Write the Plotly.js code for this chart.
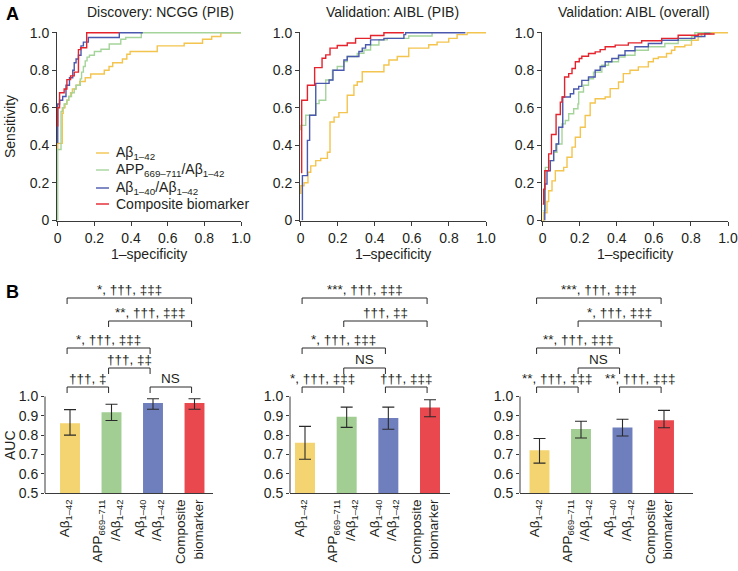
<!DOCTYPE html>
<html><head><meta charset="utf-8">
<script src="https://cdn.plot.ly/plotly-3.0.1.min.js"></script>
<style>body{margin:0;background:#fff}#chart{width:738px;height:571px}</style>
</head><body><div id="chart"></div>
<script>
// ---------------- DATA ----------------
const seriesNames = ['Aβ<sub>1–42</sub>', 'APP<sub>669–711</sub>/Aβ<sub>1–42</sub>', 'Aβ<sub>1–40</sub>/Aβ<sub>1–42</sub>', 'Composite biomarker'];
const panelTitles = ['Discovery: NCGG (PIB)', 'Validation: AIBL (PIB)', 'Validation: AIBL (overall)'];
const barTickLabels = ['Aβ<sub>1–42</sub>', 'APP<sub>669–711</sub><br>/Aβ<sub>1–42</sub>', 'Aβ<sub>1–40</sub><br>/Aβ<sub>1–42</sub>', 'Composite<br>biomarker'];
const rocTickVals = [0, 0.2, 0.4, 0.6, 0.8, 1.0];
const rocTickText = ['0', '0.2', '0.4', '0.6', '0.8', '1.0'];
const aucTickVals = [0.5, 0.6, 0.7, 0.8, 0.9, 1.0];
const aucTickText = ['0.5', '0.6', '0.7', '0.8', '0.9', '1.0'];

// Discovery NCGG (PIB) ROC curves
const ncggAb42Fpr = [0, 0, 0.025, 0.03, 0.04, 0.05, 0.06, 0.07, 0.08, 0.10, 0.12, 0.15, 0.18, 0.254, 0.28, 0.30, 0.353, 0.377, 0.395, 0.543, 0.69, 0.79, 0.84, 0.89, 1.0];
const ncggAb42Tpr = [0.38, 0.41, 0.57, 0.60, 0.62, 0.64, 0.66, 0.68, 0.70, 0.72, 0.74, 0.76, 0.78, 0.80, 0.82, 0.84, 0.86, 0.885, 0.90, 0.93, 0.944, 0.965, 0.98, 1.0, 1.0];
const ncggAppFpr = [0, 0, 0.018, 0.025, 0.035, 0.05, 0.06, 0.075, 0.09, 0.10, 0.123, 0.13, 0.14, 0.15, 0.16, 0.173, 0.20, 0.236, 0.281, 0.344, 0.371, 0.456, 1.0];
const ncggAppTpr = [0, 0.377, 0.58, 0.60, 0.62, 0.64, 0.66, 0.68, 0.70, 0.72, 0.754, 0.79, 0.82, 0.85, 0.87, 0.88, 0.90, 0.912, 0.94, 0.965, 0.975, 1.0, 1.0];
const ncggAb40Fpr = [0, 0, 0.01, 0.027, 0.045, 0.064, 0.082, 0.09, 0.10, 0.113, 0.127, 0.14, 0.167, 0.336, 0.464];
const ncggAb40Tpr = [0.41, 0.62, 0.64, 0.66, 0.72, 0.76, 0.80, 0.84, 0.86, 0.88, 0.93, 0.95, 0.975, 1.0, 1.0];
const ncggCompFpr = [0, 0, 0.01, 0.035, 0.05, 0.07, 0.09, 0.113, 0.125, 0.158, 0.335];
const ncggCompTpr = [0.5, 0.60, 0.68, 0.70, 0.75, 0.77, 0.79, 0.91, 0.92, 1.0, 1.0];

// Validation AIBL (PIB) ROC curves
const pibAb42Fpr = [0, 0, 0.018, 0.039, 0.054, 0.081, 0.108, 0.144, 0.158, 0.18, 0.206, 0.251, 0.287, 0.305, 0.332, 0.449, 0.476, 0.521, 0.583, 0.691, 0.736, 0.799, 0.844, 0.898, 1.0];
const pibAb42Tpr = [0.14, 0.184, 0.2, 0.256, 0.29, 0.318, 0.33, 0.363, 0.524, 0.55, 0.574, 0.667, 0.72, 0.739, 0.792, 0.828, 0.855, 0.873, 0.918, 0.936, 0.95, 0.97, 0.99, 1.0, 1.0];
const pibAppFpr = [0, 0, 0.027, 0.081, 0.099, 0.135, 0.171, 0.197, 0.233, 0.251, 0.305, 0.341, 0.377, 0.422, 0.467, 0.583, 0.709];
const pibAppTpr = [0.48, 0.506, 0.56, 0.622, 0.64, 0.748, 0.80, 0.82, 0.846, 0.873, 0.89, 0.908, 0.935, 0.962, 0.97, 0.983, 1.0];
const pibAb40Fpr = [0.009, 0.009, 0.036, 0.048, 0.081, 0.153, 0.174, 0.233, 0.251, 0.314, 0.332, 0.35, 0.377, 0.449, 0.557, 0.566, 0.889];
const pibAb40Tpr = [0, 0.238, 0.426, 0.56, 0.73, 0.748, 0.80, 0.855, 0.873, 0.90, 0.918, 0.936, 0.962, 0.97, 0.99, 1.0, 1.0];
const pibCompFpr = [0.005, 0.005, 0.036, 0.075, 0.115, 0.135, 0.158, 0.197, 0.251, 0.296, 0.377, 0.449, 0.557];
const pibCompTpr = [0.25, 0.64, 0.72, 0.814, 0.864, 0.882, 0.918, 0.932, 0.945, 0.97, 0.985, 1.0, 1.0];

// Validation AIBL (overall) ROC curves
const allAb42Fpr = [0, 0.005, 0.023, 0.032, 0.05, 0.068, 0.113, 0.131, 0.158, 0.176, 0.203, 0.229, 0.256, 0.283, 0.337, 0.364, 0.409, 0.435, 0.471, 0.516, 0.57, 0.597, 0.624, 0.668, 0.695, 0.713, 0.767, 0.803, 0.839, 0.857, 0.91, 1.0];
const allAb42Tpr = [0, 0.04, 0.1, 0.157, 0.21, 0.264, 0.282, 0.336, 0.39, 0.443, 0.496, 0.559, 0.625, 0.648, 0.657, 0.702, 0.737, 0.782, 0.80, 0.818, 0.845, 0.863, 0.871, 0.889, 0.907, 0.925, 0.934, 0.96, 0.98, 0.996, 1.0, 1.0];
const allAppFpr = [0, 0.014, 0.032, 0.059, 0.077, 0.104, 0.122, 0.14, 0.167, 0.19, 0.194, 0.22, 0.247, 0.274, 0.319, 0.355, 0.409, 0.444, 0.498, 0.57, 0.659, 0.731, 0.803, 0.821, 0.91];
const allAppTpr = [0.05, 0.282, 0.318, 0.363, 0.407, 0.514, 0.532, 0.568, 0.595, 0.62, 0.684, 0.72, 0.755, 0.79, 0.827, 0.845, 0.871, 0.88, 0.907, 0.925, 0.943, 0.96, 0.98, 1.0, 1.0];
const allAb40Fpr = [0.011, 0.011, 0.023, 0.041, 0.059, 0.072, 0.086, 0.108, 0.149, 0.167, 0.194, 0.211, 0.247, 0.283, 0.31, 0.337, 0.373, 0.409, 0.444, 0.498, 0.57, 0.642, 0.731, 0.821, 0.875, 0.901];
const allAb40Tpr = [0, 0.193, 0.264, 0.318, 0.371, 0.407, 0.496, 0.657, 0.675, 0.70, 0.714, 0.746, 0.764, 0.80, 0.82, 0.845, 0.863, 0.88, 0.904, 0.925, 0.943, 0.96, 0.97, 0.98, 0.996, 1.0];
const allCompFpr = [0, 0.005, 0.011, 0.032, 0.047, 0.072, 0.095, 0.104, 0.118, 0.14, 0.158, 0.176, 0.197, 0.211, 0.247, 0.283, 0.31, 0.337, 0.391, 0.462, 0.534, 0.642, 0.731, 0.839, 0.928];
const allCompTpr = [0.086, 0.166, 0.264, 0.354, 0.457, 0.564, 0.63, 0.657, 0.764, 0.782, 0.809, 0.845, 0.863, 0.875, 0.889, 0.898, 0.91, 0.925, 0.934, 0.946, 0.957, 0.97, 0.987, 0.993, 0.993];

// AUC with 95% CI
const ncggAuc = [0.862, 0.918, 0.966, 0.966];
const ncggAucLo = [0.80, 0.876, 0.934, 0.934];
const ncggAucHi = [0.932, 0.96, 0.988, 0.988];
const pibAuc = [0.76, 0.895, 0.888, 0.943];
const pibAucLo = [0.675, 0.84, 0.83, 0.895];
const pibAucHi = [0.845, 0.945, 0.945, 0.983];
const allAuc = [0.722, 0.832, 0.84, 0.877];
const allAucLo = [0.655, 0.785, 0.795, 0.838];
const allAucHi = [0.782, 0.872, 0.882, 0.928];

// Pairwise comparison brackets [from, to, label]
const ncggBrackets = [[0, 1, '†††, ‡'], [2, 3, 'NS'], [1, 2, '†††, ‡‡'], [0, 2, '*, †††, ‡‡‡'], [1, 3, '**, †††, ‡‡‡'], [0, 3, '*, †††, ‡‡‡']];
const pibBrackets = [[0, 1, '*, †††, ‡‡‡'], [2, 3, '†††, ‡‡‡'], [1, 2, 'NS'], [0, 2, '*, †††, ‡‡‡'], [1, 3, '†††, ‡‡'], [0, 3, '***, †††, ‡‡‡']];
const allBrackets = [[0, 1, '**, †††, ‡‡‡'], [2, 3, '**, †††, ‡‡‡'], [1, 2, 'NS'], [0, 2, '**, †††, ‡‡‡'], [1, 3, '*, †††, ‡‡‡'], [0, 3, '***, †††, ‡‡‡']];

// ---------------- STYLE / LAYOUT ----------------
const FONT = 'Liberation Sans, Arial, Helvetica, sans-serif';
const TXT = '#231f20';
const AX = '#3a3a3a';
const FS = 14;
const lineColors = ['#f3c44e', '#a5d49b', '#4a59ad', '#e4232d'];
const barColors = ['#f3d470', '#a2cd93', '#6f7ebd', '#e9484f'];
const W = 738, H = 571;
const px = v => v / W, py = v => 1 - v / H;
const rocX = [[57, 241], [300, 486], [542, 728]];
const rocY = [32, 221];
const titleCx = [160, 392, 634];
const barAxisX = [[45, 213], [290, 450], [520, 693]];
const barFirstLast = [[70, 194.5], [305, 430], [539.5, 664]];
const barY0px = 493, barY1px = 396.5, barTopPx = 280;
const bracketLevelsPx = [387, 387, 368, 348, 321, 298];
const bracketLegPx = 6;
const bracketXShift = -0.07;
const tickShift = -0.12;

const rocSets = [
  [[ncggAb42Fpr, ncggAb42Tpr], [ncggAppFpr, ncggAppTpr], [ncggAb40Fpr, ncggAb40Tpr], [ncggCompFpr, ncggCompTpr]],
  [[pibAb42Fpr, pibAb42Tpr], [pibAppFpr, pibAppTpr], [pibAb40Fpr, pibAb40Tpr], [pibCompFpr, pibCompTpr]],
  [[allAb42Fpr, allAb42Tpr], [allAppFpr, allAppTpr], [allAb40Fpr, allAb40Tpr], [allCompFpr, allCompTpr]]
];
const aucSets = [[ncggAuc, ncggAucLo, ncggAucHi], [pibAuc, pibAucLo, pibAucHi], [allAuc, allAucLo, allAucHi]];
const bracketSets = [ncggBrackets, pibBrackets, allBrackets];

const traces = [];
const annotations = [];
const shapes = [];
const layout = {
  width: W, height: H, margin: {l: 0, r: 0, t: 0, b: 0},
  paper_bgcolor: '#fff', plot_bgcolor: 'rgba(0,0,0,0)',
  showlegend: false, font: {family: FONT, size: FS, color: TXT}
};

const barYTop = 0.5 + (barY0px - barTopPx) / (barY0px - barY1px) * 0.5;
const pxToAuc = p => 0.5 + (barY0px - p) / (barY0px - barY1px) * 0.5;

for (let p = 0; p < 3; p++) {
  const xa = 'x' + (p === 0 ? '' : p + 1), ya = 'y' + (p === 0 ? '' : p + 1);
  const xk = 'xaxis' + (p === 0 ? '' : p + 1), yk = 'yaxis' + (p === 0 ? '' : p + 1);
  rocSets[p].forEach((s, i) => {
    traces.push({x: s[0], y: s[1], type: 'scatter', mode: 'lines', xaxis: xa, yaxis: ya,
      line: {color: lineColors[i], width: 1.4, shape: 'hv'}, hoverinfo: 'skip', name: seriesNames[i]});
  });
  layout[xk] = {domain: [px(rocX[p][0]), px(rocX[p][1])], range: [-0.004, 1.0], anchor: ya,
    showline: true, linecolor: AX, linewidth: 1, ticks: 'outside', ticklen: 4, tickcolor: AX,
    tickvals: rocTickVals, ticktext: rocTickText, showgrid: false, zeroline: false,
    tickfont: {size: FS, color: TXT, family: FONT}};
  layout[yk] = {domain: [py(rocY[1]), py(rocY[0])], range: [-0.004, 1.004], anchor: xa,
    showline: true, linecolor: AX, linewidth: 1, ticks: 'outside', ticklen: 4, tickcolor: AX,
    tickvals: rocTickVals, ticktext: rocTickText, showgrid: false, zeroline: false,
    tickfont: {size: FS, color: TXT, family: FONT}};
  annotations.push({xref: 'paper', yref: 'paper', x: px(titleCx[p]), y: py(12), text: panelTitles[p],
    showarrow: false, xanchor: 'center', yanchor: 'middle', font: {size: FS, color: TXT}});
  annotations.push({xref: 'paper', yref: 'paper', x: px((rocX[p][0] + rocX[p][1]) / 2), y: py(254), text: '1–specificity',
    showarrow: false, xanchor: 'center', yanchor: 'middle', font: {size: FS, color: TXT}});

  // bars
  const bi = p + 4;
  const bxa = 'x' + bi, bya = 'y' + bi;
  const [auc, lo, hi] = aucSets[p];
  const idx = auc.map((_, i) => i);
  traces.push({type: 'bar', x: idx, y: auc, xaxis: bxa, yaxis: bya, width: 0.48,
    marker: {color: barColors, line: {width: 0}}, hoverinfo: 'skip',
    error_y: {type: 'data', symmetric: false, array: hi.map((h, i) => h - auc[i]), arrayminus: lo.map((l, i) => auc[i] - l),
      color: '#2a2a2a', thickness: 1.1, width: 6}});
  const u = 3 / (barFirstLast[p][1] - barFirstLast[p][0]);
  const r0 = (barAxisX[p][0] - barFirstLast[p][0]) * u, r1 = 3 + (barAxisX[p][1] - barFirstLast[p][1]) * u;
  layout['xaxis' + bi] = {domain: [px(barAxisX[p][0]), px(barAxisX[p][1])], range: [r0, r1], anchor: bya,
    showline: true, linecolor: AX, linewidth: 1, ticks: '', showgrid: false, zeroline: false,
    tickvals: idx.map(i => i + tickShift), ticktext: barTickLabels, tickangle: -90,
    tickfont: {size: 13.5, color: TXT, family: FONT}};
  layout['yaxis' + bi] = {domain: [py(barY0px), py(barTopPx)], range: [0.5, barYTop], anchor: bxa,
    showline: false, ticks: 'outside', ticklen: 3, tickcolor: AX, showgrid: false, zeroline: false,
    tickvals: aucTickVals, ticktext: aucTickText, tickfont: {size: FS, color: TXT, family: FONT}};
  // AUC axis line only spans the 0.5–1.0 scale
  shapes.push({type: 'line', xref: bxa + ' domain', yref: bya, x0: 0, x1: 0, y0: 0.5, y1: 1.0,
    line: {color: AX, width: 1}});
  bracketSets[p].forEach((b, k) => {
    const yl = pxToAuc(bracketLevelsPx[k]);
    const yleg = pxToAuc(bracketLevelsPx[k] + bracketLegPx);
    const xa0 = b[0] + bracketXShift, xa1 = b[1] + bracketXShift;
    traces.push({type: 'scatter', mode: 'lines', x: [xa0, xa0, xa1, xa1], y: [yleg, yl, yl, yleg],
      xaxis: bxa, yaxis: bya, line: {color: '#2a2a2a', width: 1}, hoverinfo: 'skip'});
    annotations.push({xref: bxa, yref: bya, x: (xa0 + xa1) / 2, y: yl, text: b[2], showarrow: false,
      xanchor: 'center', yanchor: 'bottom', font: {size: 13.5, color: TXT}, borderpad: 0});
  });
}

// axis titles & panel letters
annotations.push({xref: 'paper', yref: 'paper', x: px(10), y: py(127), text: 'Sensitivity', textangle: -90,
  showarrow: false, xanchor: 'center', yanchor: 'middle', font: {size: FS, color: TXT}});
annotations.push({xref: 'paper', yref: 'paper', x: px(10), y: py(445), text: 'AUC', textangle: -90,
  showarrow: false, xanchor: 'center', yanchor: 'middle', font: {size: FS, color: TXT}});
annotations.push({xref: 'paper', yref: 'paper', x: px(12), y: py(14), text: '<b>A</b>',
  showarrow: false, xanchor: 'center', yanchor: 'middle', font: {size: 18, color: '#000'}});
annotations.push({xref: 'paper', yref: 'paper', x: px(12), y: py(292), text: '<b>B</b>',
  showarrow: false, xanchor: 'center', yanchor: 'middle', font: {size: 18, color: '#000'}});

// legend (panel A, first plot)
const legY = [153, 170, 188, 204];
seriesNames.forEach((n, i) => {
  shapes.push({type: 'line', xref: 'paper', yref: 'paper', x0: px(96), x1: px(109), y0: py(legY[i]), y1: py(legY[i]),
    line: {color: lineColors[i], width: 1.4}});
  annotations.push({xref: 'paper', yref: 'paper', x: px(114), y: py(legY[i]), text: n, showarrow: false,
    xanchor: 'left', yanchor: 'middle', font: {size: FS, color: TXT}});
});

layout.annotations = annotations;
layout.shapes = shapes;
Plotly.newPlot('chart', traces, layout, {staticPlot: true, displayModeBar: false});
</script>
</body></html>
